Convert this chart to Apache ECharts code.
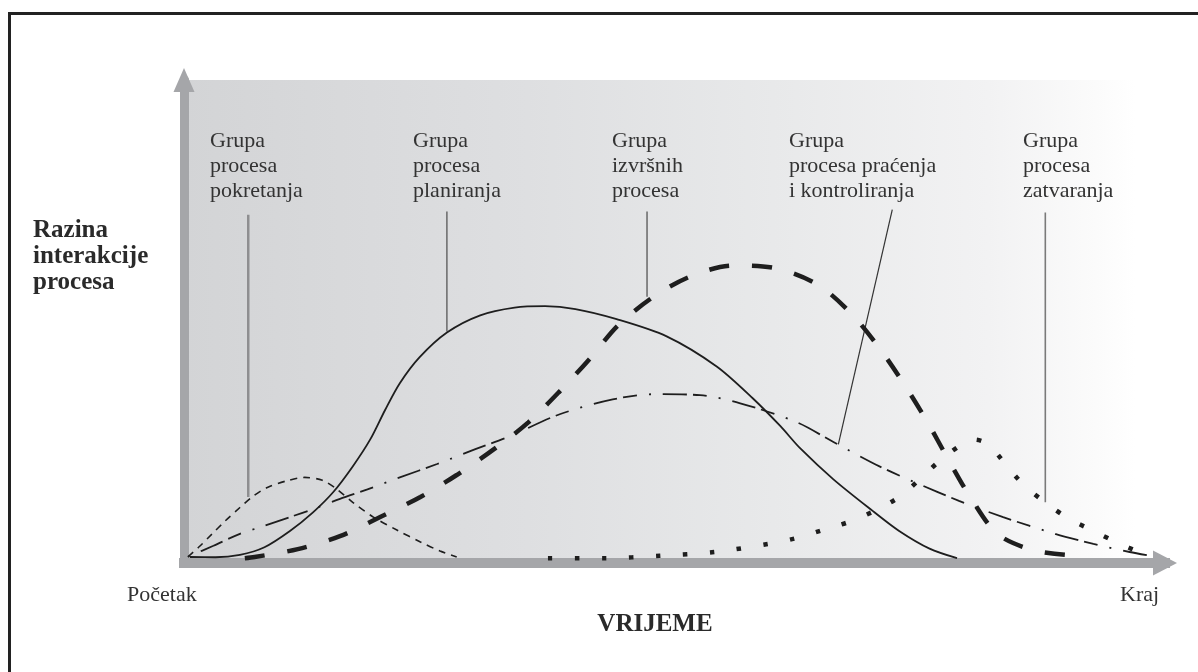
<!DOCTYPE html>
<html>
<head>
<meta charset="utf-8">
<script src="https://cdn.jsdelivr.net/npm/echarts/dist/echarts.min.js"></script>
<style>
html,body{margin:0;padding:0;background:#fff;}
#chart{width:1198px;height:672px;}
</style>
</head>
<body>
<div id="chart"></div>
<script>
// ---- data (x: time 0..100, y: level of interaction) ----
const seriesNames = ['Grupa procesa pokretanja', 'Grupa procesa planiranja', 'Grupa izvršnih procesa', 'Grupa procesa praćenja i kontroliranja', 'Grupa procesa zatvaranja'];
const initiating = [[0.4,0.3],[1.6,2.5],[2.85,5.05],[4.2,7.8],[5.7,10.6],[7.0,12.9],[8.5,14.8],[10.5,16.2],[12.3,16.9],[14.1,16.3],[15.6,14.4],[17.2,11.7],[19.3,8.6],[21.7,5.9],[24.1,3.4],[26.1,1.5],[27.8,0.25]];
const planning = [[0.6,0.25],[3.2,0.2],[5.7,0.7],[8.2,2.3],[10.8,5.7],[13.15,9.6],[15.2,13.8],[17.2,19.2],[19.0,24.9],[20.5,31.0],[22.0,36.6],[24.0,42.0],[26.8,47.2],[30.2,50.8],[33.7,52.4],[36.8,52.7],[39.9,52.1],[44.1,50.0],[49.2,46.4],[54.3,40.1],[58.0,33.4],[60.8,27.6],[62.8,23.0],[66.2,16.5],[70.2,9.9],[72.9,5.7],[76.0,2.0],[78.8,0]];
const executing = [[6.2,0],[7.2,0.25],[11.6,1.9],[15.9,4.6],[20.0,8.6],[24.1,12.8],[27.8,17.4],[31.6,22.8],[35.1,28.4],[38.3,34.9],[41.4,41.8],[44.2,48.6],[47.8,54.6],[51.6,58.9],[55.9,61.2],[60.4,60.6],[64.6,57.2],[68.0,51.2],[70.9,43.9],[73.4,36.4],[75.8,28.4],[78.0,20.3],[80.2,12.6],[82.9,5.1],[86.5,1.7],[89.8,0.7]];
const monitoring = [[0.4,0.3],[3.0,2.6],[5.7,5.1],[8.1,6.7],[10.8,8.6],[13.2,10.3],[15.9,12.4],[18.7,14.4],[22.0,16.9],[25.8,19.7],[29.7,22.8],[33.2,25.5],[38.3,30.1],[43.7,33.2],[48.0,34.3],[52.6,34.1],[56.7,32.4],[62.5,28.4],[66.2,24.3],[70.9,19.2],[74.7,15.7],[79.0,12.0],[83.5,8.6],[88.8,5.1],[92.7,3.0],[96.4,1.3],[98.5,0.5]];
const closing = [[37.1,0],[42.8,0],[48.5,0.5],[54.1,1.3],[59.6,3.0],[62.4,4.2],[65.1,5.9],[67.8,7.6],[70.4,9.9],[72.9,12.8],[75.0,16.5],[77.1,20.5],[79.3,23.8],[80.6,24.8],[82.0,23.8],[83.8,19.5],[85.6,15.3],[87.9,11.5],[90.1,8.4],[92.7,5.7],[95.2,3.2],[97.8,0.9]];
// leader lines from labels to curves (data coords)
const leaderInitiating = [[6.55,71.8],[6.55,12.8]];
const leaderPlanning = [[26.8,72.5],[26.8,47.4]];
const leaderExecuting = [[47.2,72.5],[47.2,54.7]];
const leaderMonitoring = [[72.2,72.9],[66.7,23.8]];
const leaderClosing = [[87.8,72.3],[87.8,11.7]];
// texts
const groupLabels = [['Grupa','procesa','pokretanja'],['Grupa','procesa','planiranja'],['Grupa','izvršnih','procesa'],['Grupa','procesa praćenja','i kontroliranja'],['Grupa','procesa','zatvaranja']];
const yTitle = ['Razina','interakcije','procesa'];
const xTitle = 'VRIJEME';
const xStartLabel = 'Početak';
const xEndLabel = 'Kraj';

const chart = echarts.init(document.getElementById('chart'), null, {renderer:'canvas'});
const AX = '#a5a6a9';
const INK = '#1e1e1e';
const serif = '"Liberation Serif", "Times New Roman", serif';

function curve(name, data, style) {
  return {
    name: name, type: 'line', data: data, smooth: 0.3, symbol: 'none', silent: true,
    lineStyle: Object.assign({color: INK}, style), z: 3
  };
}
function leader(data, color, width) {
  return {type:'line', data:data, symbol:'none', silent:true, smooth:false,
    lineStyle:{color:color, width:width}, z:2};
}

const labelLefts = [210, 413, 612, 789, 1023];
const graphics = [
  {type:'rect', shape:{x:9.5, y:13.5, width:1400, height:900}, style:{fill:'none', stroke:'#222', lineWidth:3}, silent:true, z:100}
];
groupLabels.forEach(function(lines, i){
  graphics.push({type:'text', x:labelLefts[i], y:129, silent:true, z:50,
    style:{text:lines.join('\n'), font:'22px ' + serif, lineHeight:25, fill:'#333', align:'left', verticalAlign:'top'}});
});
graphics.push({type:'text', x:33, y:218, silent:true, z:50,
  style:{text:yTitle.join('\n'), font:'bold 25px ' + serif, lineHeight:26, fill:'#2a2a2a', align:'left', verticalAlign:'top'}});
graphics.push({type:'text', x:655, y:625, silent:true, z:50,
  style:{text:xTitle, font:'bold 25px ' + serif, fill:'#2a2a2a', align:'center', verticalAlign:'middle'}});
graphics.push({type:'text', x:127, y:595, silent:true, z:50,
  style:{text:xStartLabel, font:'22px ' + serif, fill:'#333', align:'left', verticalAlign:'middle'}});
graphics.push({type:'text', x:1120, y:595, silent:true, z:50,
  style:{text:xEndLabel, font:'22px ' + serif, fill:'#333', align:'left', verticalAlign:'middle'}});

chart.setOption({
  animation: false,
  backgroundColor: '#fff',
  grid: {
    left: 184, right: 33, top: 80, bottom: 109, show: true, borderWidth: 0,
    backgroundColor: {type:'linear', x:0, y:0, x2:1, y2:0, colorStops:[
      {offset:0, color:'#d3d4d6'},
      {offset:0.35, color:'#dedfe1'},
      {offset:0.6, color:'#e8e9ea'},
      {offset:0.82, color:'#f2f2f3'},
      {offset:0.93, color:'#fbfbfb'},
      {offset:0.97, color:'#ffffff'},
      {offset:1, color:'#ffffff'}
    ]}
  },
  xAxis: {
    type:'value', min:0, max:100,
    axisLine:{show:true, onZero:false, symbol:['none','triangle'], symbolSize:[25,24],
      lineStyle:{color:AX, width:10, cap:'square'}},
    axisTick:{show:false}, axisLabel:{show:false}, splitLine:{show:false}
  },
  yAxis: {
    type:'value', min:-1, max:100,
    axisLine:{show:true, onZero:false, symbol:['none','triangle'], symbolSize:[21,24],
      lineStyle:{color:AX, width:9}},
    axisTick:{show:false}, axisLabel:{show:false}, splitLine:{show:false}
  },
  graphic: graphics,
  series: [
    leader(leaderInitiating, '#8e8e90', 2.5),
    leader(leaderPlanning, '#555', 1.3),
    leader(leaderExecuting, '#555', 1.3),
    leader(leaderMonitoring, '#333', 1.2),
    leader(leaderClosing, '#7a7a7a', 1.6),
    curve(seriesNames[0], initiating, {width:1.6, type:[7,6]}),
    curve(seriesNames[1], planning, {width:1.8, type:'solid'}),
    curve(seriesNames[2], executing, {width:4.5, type:[20,23]}),
    curve(seriesNames[3], monitoring, {width:1.8, type:[2,12,24,6,14,12]}),
    curve(seriesNames[4], closing, {width:4.5, type:[4.5,22.5]})
  ]
});
</script>
</body>
</html>
